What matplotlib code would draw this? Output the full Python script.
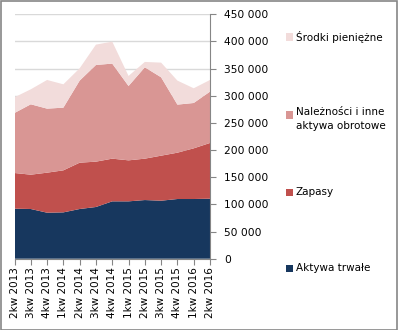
import matplotlib
matplotlib.use("Agg")
import matplotlib.pyplot as plt
from matplotlib.patches import Rectangle
from matplotlib.ticker import FuncFormatter

quarters = ["2kw 2013", "3kw 2013", "4kw 2013", "1kw 2014", "2kw 2014", "3kw 2014", "4kw 2014",
            "1kw 2015", "2kw 2015", "3kw 2015", "4kw 2015", "1kw 2016", "2kw 2016"]
aktywa_trwale = [92100, 91500, 84700, 85300, 91500, 95200, 105600, 105600, 108000, 106800, 109900, 109900, 110500]
zapasy = [65700, 63200, 73700, 77400, 85300, 83500, 78600, 75500, 76200, 82900, 85300, 93300, 102600]
naleznosci = [110500, 129600, 117900, 115400, 151100, 178000, 175000, 136900, 168200, 144300, 88500, 83500, 94500]
srodki = [28900, 27600, 52800, 43000, 22700, 37500, 40500, 18500, 9900, 27000, 44200, 27100, 21500]

labels = ["Aktywa trwałe", "Zapasy", "Należności i inne\naktywa obrotowe", "Środki pieniężne"]
colors = ["#17375E", "#C0504D", "#D99694", "#F2DCDB"]

W, H = 398, 330
fig = plt.figure(figsize=(W / 100, H / 100), dpi=100)
ax = fig.add_axes([14.5 / W, 1 - 258.7 / H, (210 - 14.5) / W, (258.7 - 14.3) / H])

x = list(range(len(quarters)))
ax.stackplot(x, aktywa_trwale, zapasy, naleznosci, srodki, colors=colors, linewidth=0)

ax.set_xlim(0, len(quarters) - 1)
ax.set_ylim(0, 450000)
ax.set_yticks(range(0, 450001, 50000))
ax.yaxis.set_major_formatter(FuncFormatter(lambda v, p: "0" if v == 0 else f"{int(v):,}".replace(",", " ")))
ax.yaxis.tick_right()
ax.grid(axis="y", color="#D9D9D9", linewidth=1)
ax.set_axisbelow(True)
ax.set_xticks(x)
ax.set_xticklabels(quarters, rotation=90, fontsize=7.5)
for s in ["top", "left"]:
    ax.spines[s].set_visible(False)
for s in ["right", "bottom"]:
    ax.spines[s].set_color("#868686")
ax.tick_params(axis="y", labelsize=7.7, length=4, color="#868686", pad=6)
ax.tick_params(axis="x", length=4, color="#868686", pad=2)

# legend
leg_y = [268, 192, 115, 37]
for lab, col, yy in zip(labels, colors, leg_y):
    fig.patches.append(Rectangle((286 / W, 1 - (yy + 3.5) / H), 7 / W, 7 / H, transform=fig.transFigure,
                                 facecolor=col, edgecolor="none"))
    if "\n" in lab:
        fig.text(296 / W, 1 - (yy - 8) / H, lab, fontsize=7.5, va="top", ha="left", linespacing=1.55)
    else:
        fig.text(296 / W, 1 - yy / H, lab, fontsize=7.5, va="center", ha="left")

fig.patches.append(Rectangle((0.5 / W, 0.5 / H), (W - 1.5) / W, (H - 1.5) / H, transform=fig.transFigure,
                             facecolor="none", edgecolor="#868686", linewidth=1.2))
fig.savefig("out.png", dpi=100)
